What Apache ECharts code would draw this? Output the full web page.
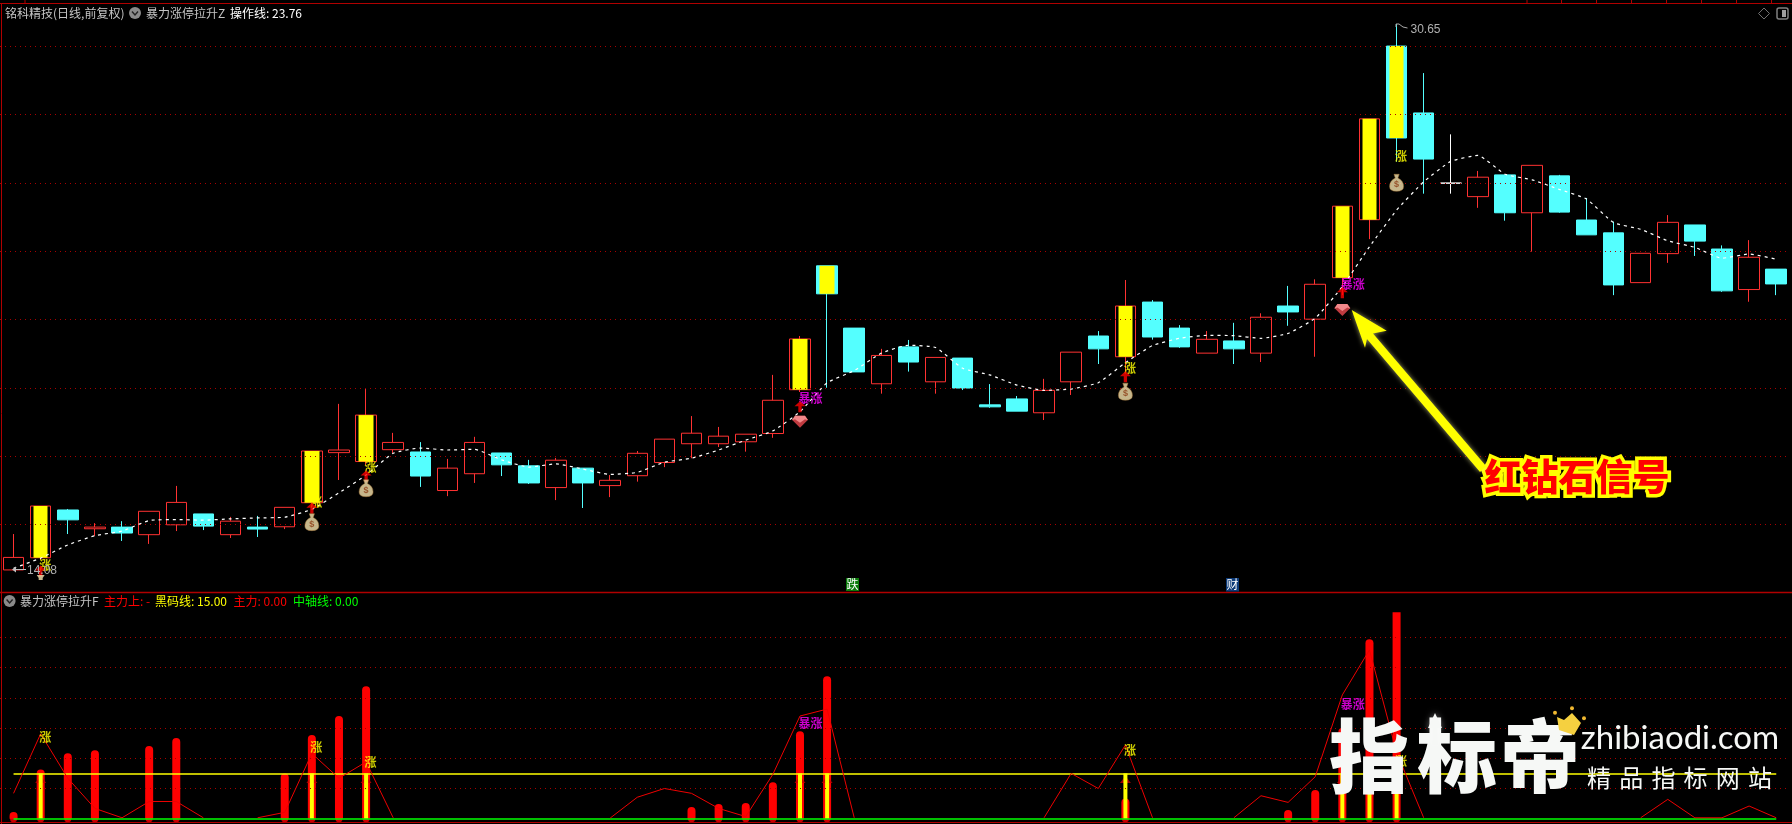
<!DOCTYPE html>
<html><head><meta charset="utf-8"><title>暴力涨停拉升</title>
<style>html,body{margin:0;padding:0;background:#000}#c{width:1792px;height:824px}</style>
<script src="https://cdn.jsdelivr.net/npm/echarts@6/dist/echarts.min.js"></script></head>
<body><div id="c"></div>
<script>
// ---------- data ----------
// each candle: [open, close, low, high]
const candles = [
[14.08,14.46,14.08,15.17],[14.45,16.02,14.38,16.02],[15.90,15.60,15.17,15.93],[15.33,15.38,15.11,15.50],
[15.38,15.20,14.96,15.56],[15.15,15.86,14.87,15.86],[15.45,16.13,15.26,16.63],[15.78,15.41,15.29,15.78],
[15.15,15.56,15.05,15.69],[15.38,15.32,15.08,15.72],[15.39,15.98,15.32,15.98],[16.12,17.69,16.08,17.69],
[17.64,17.72,16.81,19.12],[17.37,18.78,17.27,19.57],[17.73,17.95,17.63,18.24],[17.66,16.93,16.60,17.96],
[16.49,17.17,16.32,17.45],[17.00,17.95,16.72,18.12],[17.63,17.27,16.93,17.63],[17.24,16.72,16.69,17.42],
[16.58,17.41,16.20,17.48],[17.17,16.72,15.96,17.17],[16.64,16.80,16.29,16.96],[16.94,17.62,16.76,17.69],
[17.34,18.05,17.20,18.05],[17.91,18.23,17.47,18.75],[17.91,18.14,17.81,18.42],[17.97,18.20,17.67,18.20],
[18.22,19.23,18.09,20.00],[19.55,21.09,19.48,21.18],[23.31,22.46,19.61,23.31],[21.42,20.09,20.09,21.42],
[19.73,20.59,19.43,20.79],[20.85,20.39,20.10,21.06],[19.79,20.53,19.43,20.53],[20.51,19.60,19.54,20.51],
[19.09,19.03,19.00,19.72],[19.27,18.90,18.90,19.36],[18.85,19.53,18.63,19.88],[19.79,20.69,19.39,20.69],
[21.18,20.79,20.33,21.33],[20.55,22.09,20.06,22.88],[22.21,21.15,21.07,22.27],[21.42,20.85,20.82,21.51],
[20.66,21.08,20.66,21.33],[21.03,20.79,20.33,21.58],[20.66,21.75,20.39,21.87],[22.09,21.91,21.49,22.70],
[21.69,22.75,20.55,22.90],[22.95,25.12,22.42,25.12],[24.71,27.77,24.12,27.77],[29.98,27.19,26.47,30.65],
[27.95,26.55,25.50,29.16],[25.82,25.82,25.50,27.30],[25.41,26.00,25.07,26.19],[26.07,24.92,24.68,26.07],
[24.92,26.36,23.74,26.36],[26.04,24.94,24.92,26.07],[24.70,24.25,24.25,25.37],[24.31,22.73,22.42,24.65],
[22.80,23.69,22.80,23.69],[23.68,24.63,23.40,24.85],[24.55,24.06,23.61,24.55],[23.82,22.55,22.52,23.93],
[22.59,23.57,22.22,24.09],[23.21,22.76,22.42,23.21]];
const operatorLine = [14.13,14.44,14.84,15.12,15.26,15.58,15.61,15.59,15.63,15.66,15.68,15.92,16.42,16.96,17.62,17.78,
17.72,17.74,17.42,17.20,17.30,17.14,16.98,17.04,17.35,17.47,17.72,18.02,18.30,18.88,19.76,20.13,20.66,20.90,20.83,20.20,
20.00,19.69,19.53,19.57,19.76,20.37,20.89,21.11,21.20,21.19,21.11,21.26,21.72,22.68,23.89,25.00,25.86,26.48,26.66,26.09,
25.92,25.63,25.34,24.62,24.42,24.07,23.87,23.54,23.67,23.51];
const priceGridLevels = [29.97,27.90,25.82,23.75,21.69,19.59,17.53,15.47];
const yellowCandleIdx = [1,11,13,29,30,41,49,50,51];
const dojiIdx = 53;
const zhangPrice = [[1,14.23],[11,16.12],[13,17.18],[41,20.19],[51,26.62]];
const baoZhangPrice = [[29,19.27],[49,22.73]];
const arrowPrice = [[1,14.05],[11,15.95],[13,16.93],[29,19.03],[41,19.94],[49,22.49]];
const bagPrice = [[11,15.53],[13,16.56],[41,19.49],[51,25.83]];
const cutBagPrice = [[1,13.85]];
const diamondPrice = [[29,18.58],[49,21.97]];

const barIdx = [0,1,2,3,5,6,10,11,12,13,25,26,27,28,29,30,41,47,48,49,50,51];
const barVal = [2.2,16.3,21.7,22.7,24.1,26.7,15.0,27.7,34.0,43.9,3.9,4.9,5.2,12.1,29.0,47.2,6.7,2.9,9.5,30.0,59.4,68.4];
const yellowBarIdx = [1,11,13,29,30,41,49,50,51];
const blackLine = 15, axisLine = 0;
const mainForceUp = [8.4,28.1,13.4,3.4,0.3,5.7,5.7,0.3,null,0.3,2.1,21.6,13.4,18.8,0.3,null,null,null,null,null,null,null,
0.2,7.1,10,8.4,3.4,0.7,14.7,34,36.3,0.3,null,null,null,null,null,null,0.3,15,10,24.4,0.3,null,null,0.3,7.6,5.4,13.9,41,55.9,22,0.3,
null,null,null,null,null,null,null,0.3,6.4,0.3,0.3,4.2,0.3];
const subGridLevels = [10,20,30,40,50,60];
const subZhang = [[1,26.8],[11,23.5],[13,18.7],[41,22.7],[51,18.8]];
const subBaoZhang = [[29,31.4],[49,38.0]];
const subArrowIdx = [1,11,13,29,30,41,49,50,51];
const subArrowVal = 13;
const dates = candles.map((_, i) => String(i));
const T = {
  stock:'铭科精技(日线,前复权)', f1:'暴力涨停拉升Z', f1v:'操作线: 23.76', f2:'暴力涨停拉升F',
  up:'主力上: -', black:'黑码线: 15.00', main:'主力: 0.00', mid:'中轴线: 0.00',
  high:'30.65', low:'14.08', fall:'跌', cai:'财', signal:'红钻石信号', brand:'zhibiaodi.com'
};
const BRAND_BIG = ['指','标','帝'], BRAND_SUB = ['精','品','指','标','网','站'];

// ---------- styles ----------
const RED='#ff3232', CYAN='#54ffff', GRID='#a80000', FRAME='#b00000', CJK='"Noto Sans CJK SC"';
const MAINMIN=13.38, MAINMAX=31.044, SUBMIN=-1.424, SUBMAX=74.74;
const gridLines = lv => ({silent:true,symbol:'none',animation:false,label:{show:false},
  lineStyle:{color:GRID,type:[1,4],width:1,opacity:1},emphasis:{disabled:true},data:lv.map(v=>({yAxis:v}))});

const candleData = candles.map((c,i)=> i===dojiIdx
  ? {value:c,itemStyle:{color:'#fff',color0:'#fff',borderColor:'#fff',borderColor0:'#fff'}} : c);
const yellowData = candles.map((c,i)=> yellowCandleIdx.includes(i)
  ? [c[0],c[1],Math.min(c[0],c[1]),Math.max(c[0],c[1])] : ['-','-','-','-']);
const tagSeries=(data,text,color,x,y)=>({type:'scatter',xAxisIndex:x,yAxisIndex:y,data,symbolSize:1,z:6,silent:true,
  itemStyle:{color:'rgba(0,0,0,0)'},
  label:{show:true,position:'right',distance:0,offset:[-2,0],formatter:text,color,fontSize:12,fontWeight:'bold',fontFamily:CJK}});
const symSeries=(data,symbol,size,color,extra)=>Object.assign({type:'scatter',xAxisIndex:0,yAxisIndex:0,data,symbol,symbolSize:size,z:7,silent:true,
  itemStyle:{color}},extra||{});

const BAG='path://M5 0 L11 0 L9.5 4 Q16 7 16 13 Q16 18 8 18 Q0 18 0 13 Q0 7 6.5 4 Z';
const ARROW='path://M5 0 L10 5 L6.5 5 L6.5 11 L3.5 11 L3.5 5 L0 5 Z';
const GEM='path://M3 0 L13 0 L16 4 L8 12 L0 4 Z';
const GEMTOP='path://M3 0 L13 0 L16 4 L13 3 L8 6 L3 3 L0 4 Z';
const CUP='path://M0 0 L8 0 L6 3 L6 5 L2 5 L2 3 Z';

const series=[
 {type:'candlestick',name:'K',xAxisIndex:0,yAxisIndex:0,data:candleData,barWidth:21,z:3,silent:true,
  itemStyle:{color:'#000',color0:CYAN,borderColor:RED,borderColor0:CYAN,borderWidth:1},
  markLine:gridLines(priceGridLevels)},
 {type:'candlestick',name:'Y',xAxisIndex:0,yAxisIndex:0,data:yellowData,barWidth:15,z:4,silent:true,
  itemStyle:{color:'#ffff00',color0:'#ffff00',borderColor:'#ffff00',borderColor0:'#ffff00',borderWidth:0}},
 {type:'line',name:'操作线',xAxisIndex:0,yAxisIndex:0,data:operatorLine,smooth:0.15,symbol:'none',z:5,silent:true,
  lineStyle:{color:'#fff',width:1.2,type:[3,4]}},
 tagSeries(zhangPrice,'涨','#ffff00',0,0),
 tagSeries(baoZhangPrice,'暴涨','#ff00ff',0,0),
 symSeries(arrowPrice,ARROW,[11,11],'#ff0000'),
 symSeries(bagPrice,BAG,[14,17],'#f8e4ae',{itemStyle:{color:'#f8e4ae',borderColor:'#a87838',borderWidth:0.6},
   label:{show:true,position:'inside',offset:[0,2],formatter:'$',color:'#8b3a13',fontSize:9,fontWeight:'bold',fontFamily:'"Liberation Sans"'}}),
 symSeries(cutBagPrice,CUP,[8,5],'#f8e4ae'),
 symSeries(diamondPrice,GEM,[16,12],'#f04a50'),
 symSeries(diamondPrice,GEMTOP,[16,7],'#ff9c9c',{symbolOffset:[0,-2.5]}),
 // lower panel
 {type:'bar',name:'主力',xAxisIndex:1,yAxisIndex:1,barWidth:8,z:3,silent:true,
  data:barIdx.map((i,k)=>({value:[i,barVal[k]],itemStyle:{borderRadius:i===51?0:[4,4,0,0]}})),
  itemStyle:{color:'#ff0000'},markLine:gridLines(subGridLevels)},
 {type:'scatter',xAxisIndex:1,yAxisIndex:1,data:barIdx.map(i=>[i,axisLine]),symbolSize:7,z:3,silent:true,itemStyle:{color:'#ff0000'}},
 {type:'scatter',xAxisIndex:1,yAxisIndex:1,data:subArrowIdx.map(i=>[i,subArrowVal]),symbol:'triangle',symbolSize:[11,7],z:3,silent:true,itemStyle:{color:'#c80000'}},
 {type:'bar',name:'Y',xAxisIndex:2,yAxisIndex:1,barWidth:4,z:4,silent:true,
  data:yellowBarIdx.map(i=>[i,blackLine]),itemStyle:{color:'#ffff00'}},
 {type:'line',name:'主力上',xAxisIndex:1,yAxisIndex:1,data:mainForceUp,symbol:'none',connectNulls:false,z:5,silent:true,
  lineStyle:{color:'#ee0000',width:1}},
 {type:'line',name:'refs',xAxisIndex:1,yAxisIndex:1,data:[],z:6,silent:true,
  markLine:{silent:true,symbol:'none',animation:false,label:{show:false},emphasis:{disabled:true},data:[
   [{coord:[0,blackLine],lineStyle:{color:'#ffff00',width:1.5,type:'solid'}},{coord:[dates.length-1,blackLine]}],
   [{coord:[0,axisLine],lineStyle:{color:'#00ff00',width:1.5,type:'solid'}},{coord:[dates.length-1,axisLine]}]
  ]}},
 tagSeries(subZhang,'涨','#ffff00',1,1),
 tagSeries(subBaoZhang,'暴涨','#ff00ff',1,1)
];

// ---------- decoration ----------
const g=[];
const line=(x1,y1,x2,y2,c,w)=>g.push({type:'line',silent:true,z:90,shape:{x1,y1,x2,y2},style:{stroke:c,lineWidth:w||1}});
const txt=(text,x,y,fill,font,extra)=>g.push({type:'text',silent:true,z:92,x,y,style:Object.assign({text,fill,font:font||('12px '+CJK),textAlign:'left',textVerticalAlign:'middle'},extra||{})});
line(0,3.5,1792,3.5,FRAME); line(1.5,3,1.5,824,FRAME); line(0,592.5,1792,592.5,FRAME,1.5); line(0,822.5,1792,822.5,FRAME);
[25,1527,1561.5,1596.5,1631.5,1666.5,1701.5,1736.5,1771.5].forEach(x=>line(x,0,x,3,FRAME));
const chevron=(cx,cy)=>{g.push({type:'circle',silent:true,z:91,shape:{cx,cy,r:6},style:{fill:'#8a8a8a'}});
 g.push({type:'polyline',silent:true,z:92,shape:{points:[[cx-3,cy-1.5],[cx,cy+2],[cx+3,cy-1.5]]},style:{stroke:'#222',lineWidth:1.4,fill:null}});};
txt(T.stock,5,13,'#c4c4c4'); chevron(135,13); txt(T.f1,146,13,'#c4c4c4'); txt(T.f1v,230,13,'#ffffff');
chevron(9.6,601); txt(T.f2,20,601,'#c4c4c4'); txt(T.up,104,601,'#ff0000'); txt(T.black,155,601,'#ffff00');
txt(T.main,233.5,601,'#ff0000'); txt(T.mid,293,601,'#00ff00');
// top-right icons
g.push({type:'polygon',silent:true,z:91,shape:{points:[[1764,8],[1769.5,13.5],[1764,19],[1758.5,13.5]]},style:{stroke:'#707070',fill:null,lineWidth:1}});
g.push({type:'rect',silent:true,z:91,shape:{x:1777,y:8,width:11,height:11,r:2},style:{stroke:'#808080',fill:null,lineWidth:1.5}});
g.push({type:'rect',silent:true,z:91,shape:{x:1782,y:10,width:4,height:7},style:{fill:'#a0a0a0'}});
// high / low notes
g.push({type:'polyline',silent:true,z:91,shape:{points:[[1396,27],[1396,24],[1399,24],[1403,27],[1407.5,28]]},style:{stroke:'#aaaaaa',fill:null,lineWidth:1}});
txt(T.high,1410.5,29.5,'#b0b0b0','12px "Liberation Sans"');
g.push({type:'polyline',silent:true,z:91,shape:{points:[[26,569.5],[14,569.5]]},style:{stroke:'#c0c0c0',fill:null,lineWidth:1}});
g.push({type:'polygon',silent:true,z:91,shape:{points:[[12,569.5],[16,566.5],[16,572.5]]},style:{fill:'#c0c0c0'}});
txt(T.low,27,570.5,'#b0b0b0','12px "Liberation Sans"');
// event marks
g.push({type:'rect',silent:true,z:91,shape:{x:846,y:578,width:13,height:13},style:{fill:'#0a7a0a'}});
txt(T.fall,852.5,584.5,'#ffffff',null,{textAlign:'center'});
g.push({type:'rect',silent:true,z:91,shape:{x:1226,y:578,width:13,height:13.5},style:{fill:'#0c3a78'}});
txt(T.cai,1232.5,584.5,'#ffffff',null,{textAlign:'center'});
// big yellow arrow and caption
g.push({type:'polygon',silent:true,z:93,shape:{points:[[1351.7,310],[1386.7,330.7],[1373,333.5],[1486,466],[1480,472],[1367,339],[1365,347.7]]},
  style:{fill:'#ffff00',shadowColor:'rgba(255,255,160,0.6)',shadowBlur:5}});
txt(T.signal,1577,477,'#ffff00','900 37px '+CJK,{textAlign:'center',stroke:'#ffff00',lineWidth:7,shadowColor:'rgba(255,255,120,0.6)',shadowBlur:6});
txt(T.signal,1577,477,'#ff0000','900 37px '+CJK,{textAlign:'center'});
// watermark
const wm={shadowColor:'rgba(255,255,255,0.55)',shadowBlur:7};
BRAND_BIG.forEach((c,i)=>txt(c,[1369,1457,1540][i],756,'#f6f8f6','900 80px '+CJK,Object.assign({textAlign:'center'},wm)));
g.push({type:'polygon',silent:true,z:93,shape:{points:[[1435,713],[1442,728],[1437.5,728],[1437.5,745],[1432.5,745],[1432.5,728],[1428,728]]},style:Object.assign({fill:'#f6f8f6'},wm)});
g.push({type:'polygon',silent:true,z:94,shape:{points:[[1559,730],[1574,735],[1581,723],[1572,713],[1564,720],[1557,717]]},style:{fill:'#f5d040'}});
[[1555,712.7],[1572,708.3],[1584,718.3]].forEach(p=>g.push({type:'circle',silent:true,z:94,shape:{cx:p[0],cy:p[1],r:2},style:{fill:'#f0b830'}}));
txt(T.brand,1680,738,'#f6f8f6','33px Lato',Object.assign({textAlign:'center'},wm));
BRAND_SUB.forEach((c,i)=>txt(c,1599+i*32.2,778,'#f6f8f6','24px '+CJK,Object.assign({textAlign:'center'},wm)));

const hiddenCat=(gridIndex)=>({type:'category',gridIndex,data:dates,boundaryGap:true,show:false});
const chart=echarts.init(document.getElementById('c'),null,{renderer:'canvas'});
chart.setOption({
 animation:false,backgroundColor:'#000',tooltip:{show:false},legend:{show:false},
 grid:[{left:-0.8,top:11,width:1790.6,height:582},{left:-0.8,top:593,width:1790.6,height:230}],
 xAxis:[hiddenCat(0),hiddenCat(1),hiddenCat(1)],
 yAxis:[{type:'value',gridIndex:0,min:MAINMIN,max:MAINMAX,show:false,splitLine:{show:false}},
        {type:'value',gridIndex:1,min:SUBMIN,max:SUBMAX,show:false,splitLine:{show:false}}],
 series,graphic:{elements:g}
});
</script></body></html>
